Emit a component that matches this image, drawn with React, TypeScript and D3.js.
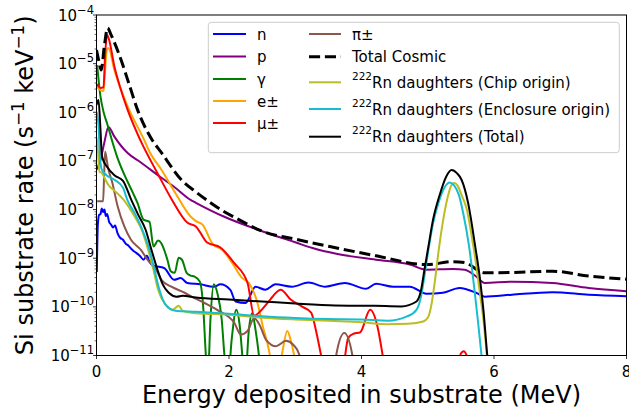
import React from 'react';
import * as d3 from 'd3';

type Pt = [number, number];

// Energy deposited (MeV) vs Si substrate rate (s^-1 keV^-1)
const neutron: Pt[] = [
  [0.005, 5.2e-10], [0.02, 4.9e-9], [0.04, 7.8e-9], [0.06, 8.1e-9], [0.08, 1.05e-8], [0.10, 8.9e-9],
  [0.12, 1.0e-8], [0.14, 7.4e-9], [0.16, 8.1e-9], [0.19, 5.6e-9], [0.22, 4.9e-9], [0.25, 4.3e-9],
  [0.28, 4.7e-9], [0.32, 3.2e-9], [0.36, 2.6e-9], [0.40, 2.4e-9], [0.44, 2.0e-9], [0.48, 1.82e-9],
  [0.52, 1.58e-9], [0.56, 1.41e-9], [0.60, 1.29e-9], [0.66, 1.1e-9], [0.71, 9.3e-10], [0.76, 1.12e-9],
  [0.80, 8.5e-10], [0.86, 7.0e-10], [1.02, 6.3e-10], [1.17, 3.6e-10], [1.27, 3.9e-10], [1.37, 3.1e-10],
  [1.57, 2.9e-10], [1.77, 2.6e-10], [1.87, 2.9e-10], [2.02, 2.24e-10], [2.10, 1.29e-10], [2.25, 1.2e-10],
  [2.40, 2.6e-10], [2.55, 2.24e-10], [2.70, 2.9e-10], [2.95, 2.6e-10], [3.20, 3.16e-10], [3.45, 2.6e-10],
  [3.75, 3.1e-10], [4.07, 2.35e-10], [4.22, 3.0e-10], [4.48, 2.6e-10], [4.73, 2.6e-10], [4.98, 1.86e-10],
  [5.23, 1.95e-10], [5.48, 2.45e-10], [5.73, 1.95e-10], [5.86, 1.62e-10], [6.27, 1.78e-10], [6.88, 2.0e-10],
  [7.43, 1.78e-10], [8.0, 1.66e-10],
];

const proton: Pt[] = [
  [0.0, 6.6e-8], [0.06, 1.05e-7], [0.12, 2.45e-7], [0.18, 5.0e-7], [0.27, 3.16e-7], [0.47, 1.45e-7],
  [0.66, 9.5e-8], [0.98, 4.5e-8], [1.17, 2.95e-8], [1.42, 1.58e-8], [1.50, 1.38e-8], [1.92, 7.2e-9],
  [2.51, 3.55e-9], [3.01, 2.1e-9], [3.26, 1.62e-9], [3.62, 1.23e-9], [4.22, 9.3e-10], [4.73, 7.4e-10],
  [4.98, 5.8e-10], [5.38, 6.0e-10], [5.56, 5.8e-10], [5.73, 4.2e-10], [5.86, 3.1e-10], [6.27, 3.3e-10],
  [6.88, 3.1e-10], [7.43, 2.45e-10], [8.0, 2.1e-10],
];

const gamma: Pt[] = [
  [0.01, 9.3e-6], [0.056, 2.3e-6], [0.106, 1.02e-6], [0.158, 6.0e-7], [0.26, 2.0e-7], [0.31, 1.23e-7],
  [0.41, 5.6e-8], [0.55, 2.2e-8], [0.62, 1.35e-8], [0.71, 6.2e-9], [0.80, 5.6e-9], [0.86, 1.74e-9],
  [0.93, 2.3e-9], [0.98, 2.0e-9], [1.07, 9.3e-10], [1.12, 5.4e-10], [1.18, 5.0e-10], [1.24, 1.02e-9],
  [1.29, 9.3e-10], [1.36, 5.0e-10], [1.42, 4.4e-10], [1.48, 4.2e-10], [1.56, 3.3e-10], [1.61, 1.02e-10],
  [1.65, 1.05e-11], [1.68, 3.2e-12], [1.72, 5.5e-11], [1.77, 2.9e-10], [1.83, 1.78e-10], [1.89, 5.5e-11],
  [1.93, 1.05e-11], [1.98, 2.5e-12], [2.04, 2.1e-11], [2.11, 8.7e-11], [2.16, 4.3e-11], [2.20, 1.05e-11],
  [2.24, 2.5e-12], [2.30, 3.4e-11], [2.35, 7.4e-11], [2.40, 3.4e-11], [2.45, 1.05e-11], [2.50, 2e-12],
];

const electron: Pt[] = [
  [0.0, 3.7e-6], [0.03, 3.1e-6], [0.106, 2.7e-6], [0.13, 7.4e-6], [0.155, 1.9e-5], [0.18, 2.1e-5],
  [0.27, 7.4e-6], [0.47, 1.32e-6], [0.72, 2.7e-7], [0.81, 1.45e-7], [0.98, 6.6e-8], [1.19, 2.2e-8],
  [1.42, 7.2e-9], [1.50, 5.8e-9], [1.60, 4.9e-9], [1.75, 2.0e-9], [1.90, 1.48e-9], [2.05, 7.9e-10],
  [2.20, 3.9e-10], [2.30, 3.1e-10], [2.43, 1.2e-10], [2.51, 4.0e-11], [2.61, 1.15e-11], [2.66, 4e-12],
  [2.78, 8e-12], [2.88, 3.2e-11], [2.93, 2.1e-11], [2.98, 1.05e-11], [3.04, 3.2e-12],
];

const muon: Pt[] = [
  [0.01, 3.8e-6], [0.06, 3.16e-6], [0.106, 3.3e-6], [0.13, 1.51e-5], [0.16, 3.9e-5], [0.19, 3.1e-5],
  [0.27, 8.7e-6], [0.36, 3.16e-6], [0.47, 1.12e-6], [0.66, 2.7e-7], [0.92, 5.6e-8], [1.14, 1.58e-8],
  [1.37, 5.4e-9], [1.50, 4.5e-9], [1.67, 2.1e-9], [1.87, 1.66e-9], [2.08, 7.9e-10], [2.28, 3.1e-10],
  [2.38, 6.6e-11], [2.48, 8.3e-11], [2.60, 1.29e-10], [2.78, 2.24e-10], [2.93, 1.41e-10], [3.11, 1.0e-10],
  [3.24, 7.6e-11], [3.31, 3.4e-11], [3.39, 1.0e-11], [3.46, 3.2e-12], [3.69, 3.2e-12], [3.80, 2.3e-11],
  [3.88, 2.8e-11], [3.98, 3.0e-11], [4.13, 8.7e-11], [4.24, 4.0e-11], [4.32, 1.0e-11], [4.40, 2e-12],
  [5.40, 2e-12], [5.50, 1.1e-11], [5.54, 1.23e-11], [5.60, 9e-12], [5.68, 2e-12],
];

const pion: Pt[] = [
  [0.01, 1.48e-8], [0.10, 1.48e-8], [0.115, 5.1e-8], [0.13, 1.55e-7], [0.15, 1.15e-7], [0.17, 7.8e-8],
  [0.24, 3.5e-8], [0.32, 1.15e-8], [0.42, 4.5e-9], [0.52, 2.4e-9], [0.67, 1.48e-9], [0.77, 9.3e-10],
  [0.90, 5.8e-10], [0.98, 3.6e-10], [1.13, 2.6e-10], [1.33, 1.95e-10], [1.48, 1.51e-10], [1.63, 1.2e-10],
  [1.82, 8.7e-11], [2.08, 4.7e-11], [2.18, 2.7e-11], [2.28, 3.2e-11], [2.38, 5.8e-11], [2.46, 4.3e-11],
  [2.56, 2.1e-11], [2.71, 1.55e-11], [2.86, 2.0e-11], [2.97, 1.66e-11], [3.06, 1.05e-11], [3.12, 3.2e-12],
  [3.55, 2e-12], [3.62, 1.05e-11], [3.74, 2.9e-11], [3.86, 1.05e-11], [3.92, 2e-12],
];

const totalCosmic: Pt[] = [
  [0.0, 1.91e-5], [0.04, 1.07e-5], [0.07, 7.4e-6], [0.12, 2.4e-5], [0.167, 5.4e-5], [0.22, 3.9e-5],
  [0.37, 1.2e-5], [0.5, 3.5e-6], [0.62, 1.12e-6], [0.84, 2.7e-7], [0.98, 1.48e-7], [1.28, 4.1e-8],
  [1.50, 2.3e-8], [1.72, 1.38e-8], [1.90, 9.5e-9], [2.12, 6.5e-9], [2.51, 3.55e-9], [3.01, 2.45e-9],
  [3.52, 1.74e-9], [4.22, 1.12e-9], [4.98, 7.4e-10], [5.38, 8.5e-10], [5.56, 8.1e-10], [5.86, 5.0e-10],
  [6.27, 5.1e-10], [6.88, 5.4e-10], [7.43, 4.3e-10], [8.0, 3.7e-10],
];

const rnChip: Pt[] = [
  [0.0, 3.1e-7], [0.02, 1.7e-7], [0.045, 6.0e-8], [0.08, 5.7e-8], [0.12, 4.5e-8], [0.18, 3.2e-8],
  [0.27, 2.45e-8], [0.41, 1.58e-8], [0.56, 7.8e-9], [0.68, 3.9e-9], [0.78, 1.48e-9], [0.86, 5.8e-10],
  [0.93, 2.24e-10], [1.04, 1.12e-10], [1.15, 8.7e-11], [1.24, 1.05e-10], [1.30, 8.3e-11], [1.50, 7.4e-11],
  [2.00, 6.9e-11], [2.50, 6.0e-11], [3.00, 5.5e-11], [3.60, 5.1e-11], [4.00, 4.8e-11], [4.40, 4.4e-11],
  [4.70, 4.5e-11], [4.93, 5.0e-11], [5.01, 6.3e-11], [5.06, 1.2e-10], [5.11, 3.6e-10], [5.16, 1.29e-9],
  [5.21, 3.9e-9], [5.28, 1.35e-8], [5.36, 3.2e-8], [5.40, 3.5e-8], [5.45, 3.1e-8], [5.51, 2.0e-8],
  [5.59, 1.0e-8], [5.66, 3.0e-9], [5.72, 9.3e-10], [5.78, 2.24e-10], [5.84, 5.5e-11], [5.89, 1.05e-11],
  [5.93, 2e-12],
];

const rnEnclosure: Pt[] = [
  [0.0, 1.02e-6], [0.03, 5.5e-7], [0.05, 1.35e-7], [0.08, 6.6e-8], [0.15, 5.1e-8], [0.27, 4.1e-8],
  [0.40, 2.8e-8], [0.465, 1.58e-8], [0.59, 7.8e-9], [0.69, 3.9e-9], [0.80, 1.48e-9], [0.875, 5.8e-10],
  [0.95, 2.24e-10], [1.04, 1.12e-10], [1.19, 8.3e-11], [1.50, 7.9e-11], [2.00, 7.2e-11], [2.50, 6.4e-11],
  [3.00, 5.9e-11], [3.50, 5.6e-11], [4.00, 5.5e-11], [4.40, 5.2e-11], [4.68, 6.3e-11], [4.83, 8.7e-11],
  [4.90, 1.66e-10], [4.95, 4.3e-10], [5.01, 1.48e-9], [5.08, 5.2e-9], [5.16, 1.35e-8], [5.26, 2.95e-8],
  [5.33, 3.6e-8], [5.40, 3.1e-8], [5.47, 2.0e-8], [5.54, 7.8e-9], [5.62, 1.9e-9], [5.71, 1.95e-10],
  [5.81, 1.05e-11], [5.86, 2e-12],
];

const rnTotal: Pt[] = [
  [0.0, 1.41e-6], [0.03, 1.78e-6], [0.06, 4.4e-7], [0.08, 1.35e-7], [0.10, 1.05e-7], [0.15, 7.9e-8],
  [0.27, 5.1e-8], [0.40, 3.9e-8], [0.525, 1.58e-8], [0.63, 7.8e-9], [0.74, 3.9e-9], [0.83, 1.48e-9],
  [0.92, 5.8e-10], [1.00, 2.9e-10], [1.09, 1.95e-10], [1.21, 1.62e-10], [1.30, 1.7e-10], [1.50, 1.55e-10],
  [2.00, 1.41e-10], [2.50, 1.29e-10], [3.00, 1.17e-10], [3.60, 1.07e-10], [4.20, 1.05e-10], [4.60, 1.02e-10],
  [4.83, 1.29e-10], [4.90, 2.24e-10], [4.95, 5.8e-10], [5.01, 1.74e-9], [5.08, 6.2e-9], [5.18, 2.0e-8],
  [5.28, 4.8e-8], [5.36, 6.5e-8], [5.44, 5.6e-8], [5.51, 4.1e-8], [5.61, 1.35e-8], [5.71, 2.0e-9],
  [5.79, 3.6e-10], [5.84, 8.7e-11], [5.90, 9.5e-12], [5.95, 2e-12],
];

const xTickValues = [0, 2, 4, 6, 8];
const yTickExponents = [-4, -5, -6, -7, -8, -9, -10, -11];

const series = [
  { key: 'n', data: neutron, color: 'blue', width: 2, dash: '' },
  { key: 'p', data: proton, color: 'purple', width: 2, dash: '' },
  { key: 'γ', data: gamma, color: 'green', width: 2, dash: '' },
  { key: 'e±', data: electron, color: 'orange', width: 2, dash: '' },
  { key: 'μ±', data: muon, color: 'red', width: 2, dash: '' },
  { key: 'π±', data: pion, color: '#8c564b', width: 2, dash: '' },
  { key: 'Total Cosmic', data: totalCosmic, color: 'black', width: 3, dash: '11.1,4.8' },
  { key: 'Rn daughters (Chip origin)', data: rnChip, color: '#bcbd22', width: 2, dash: '' },
  { key: 'Rn daughters (Enclosure origin)', data: rnEnclosure, color: '#17becf', width: 2, dash: '' },
  { key: 'Rn daughters (Total)', data: rnTotal, color: 'black', width: 2, dash: '' },
];

export default function App() {
  const L = 96.5, R = 626.5, T = 15, B = 355.5;
  const x = d3.scaleLinear().domain([0, 8]).range([L, R]);
  const y = d3.scaleLog().domain([1e-11, 1e-4]).range([B, T]);
  const line = d3
    .line<Pt>()
    .x((d) => x(d[0]))
    .y((d) => y(d[1]))
    .curve(d3.curveMonotoneX);

  const minor: number[] = [];
  for (let e = -11; e < -4; e++) for (let m = 2; m <= 9; m++) minor.push(m * Math.pow(10, e));

  const font = 'DejaVu Sans, sans-serif';

  // legend layout
  const col1 = series.slice(0, 5);
  const col2 = series.slice(5);
  const rows1 = [34, 56.5, 79, 101, 123];
  const rows2 = [34, 56.7, 82.3, 109, 136.7];

  const legendLabel = (s: any, tx: number, ty: number) => {
    if (s.key.startsWith('Rn')) {
      return (
        <text x={tx} y={ty} fontSize={15} fill="black">
          <tspan fontSize={10.5} dy={-8}>222</tspan>
          <tspan dy={8}>{s.key}</tspan>
        </text>
      );
    }
    return (
      <text x={tx} y={ty} fontSize={15} fill="black">
        {s.key}
      </text>
    );
  };

  return (
    <svg
      width={629}
      height={411}
      style={{ position: 'absolute', left: 0, top: 0, background: 'white' }}
      fontFamily={font}
    >
      <defs>
        <clipPath id="plotClip">
          <rect x={L} y={T} width={R - L} height={B - T} />
        </clipPath>
      </defs>
      <rect x={0} y={0} width={629} height={411} fill="white" />

      <g clipPath="url(#plotClip)">
        {series.map((s) => (
          <path
            key={s.key}
            d={line(s.data) || ''}
            fill="none"
            stroke={s.color}
            strokeWidth={s.width}
            strokeDasharray={s.dash || undefined}
            strokeLinejoin="round"
          />
        ))}
      </g>

      {/* frame */}
      <rect x={L} y={T} width={R - L} height={B - T} fill="none" stroke="black" strokeWidth={1} />

      {/* y ticks */}
      {minor.map((v, i) => (
        <line key={'m' + i} x1={L - 2} x2={L} y1={y(v)} y2={y(v)} stroke="black" strokeWidth={0.6} />
      ))}
      {yTickExponents.map((k) => {
        const v = Math.pow(10, k);
        return (
          <g key={'y' + k}>
            <line x1={L - 3.5} x2={L} y1={y(v)} y2={y(v)} stroke="black" strokeWidth={0.8} />
            <text x={94} y={y(v) + 5.5} textAnchor="end" fontSize={15} fill="black">
              10
              <tspan fontSize={11.5} dy={-7}>
                {'−' + String(-k)}
              </tspan>
            </text>
          </g>
        );
      })}

      {/* x ticks */}
      {xTickValues.map((v) => (
        <g key={'x' + v}>
          <line x1={x(v)} x2={x(v)} y1={B} y2={B + 3.5} stroke="black" strokeWidth={0.8} />
          <text x={x(v)} y={377} textAnchor="middle" fontSize={15} fill="black">
            {v}
          </text>
        </g>
      ))}

      {/* axis labels */}
      <text x={(L + R) / 2} y={403} textAnchor="middle" fontSize={24} fill="black">
        Energy deposited in substrate (MeV)
      </text>
      <text transform={`translate(33, ${(T + B) / 2}) rotate(-90)`} textAnchor="middle" fontSize={24} fill="black">
        Si substrate rate (s
        <tspan fontSize={16.8} dy={-9}>−1</tspan>
        <tspan dy={9}>{' keV'}</tspan>
        <tspan fontSize={16.8} dy={-9}>−1</tspan>
        <tspan dy={9}>)</tspan>
      </text>

      {/* legend */}
      <rect x={208.3} y={22.3} width={411} height={130.4} rx={3} fill="white" fillOpacity={0.8} stroke="#cccccc" strokeWidth={1} />
      {col1.map((s, i) => (
        <g key={'l1' + i}>
          <line x1={213} x2={246} y1={rows1[i]} y2={rows1[i]} stroke={s.color} strokeWidth={s.width} />
          {legendLabel(s, 257, rows1[i] + 5.5)}
        </g>
      ))}
      {col2.map((s, i) => (
        <g key={'l2' + i}>
          <line
            x1={309}
            x2={341}
            y1={rows2[i]}
            y2={rows2[i]}
            stroke={s.color}
            strokeWidth={s.width}
            strokeDasharray={s.dash || undefined}
          />
          {legendLabel(s, 352, rows2[i] + 5.5)}
        </g>
      ))}
    </svg>
  );
}
